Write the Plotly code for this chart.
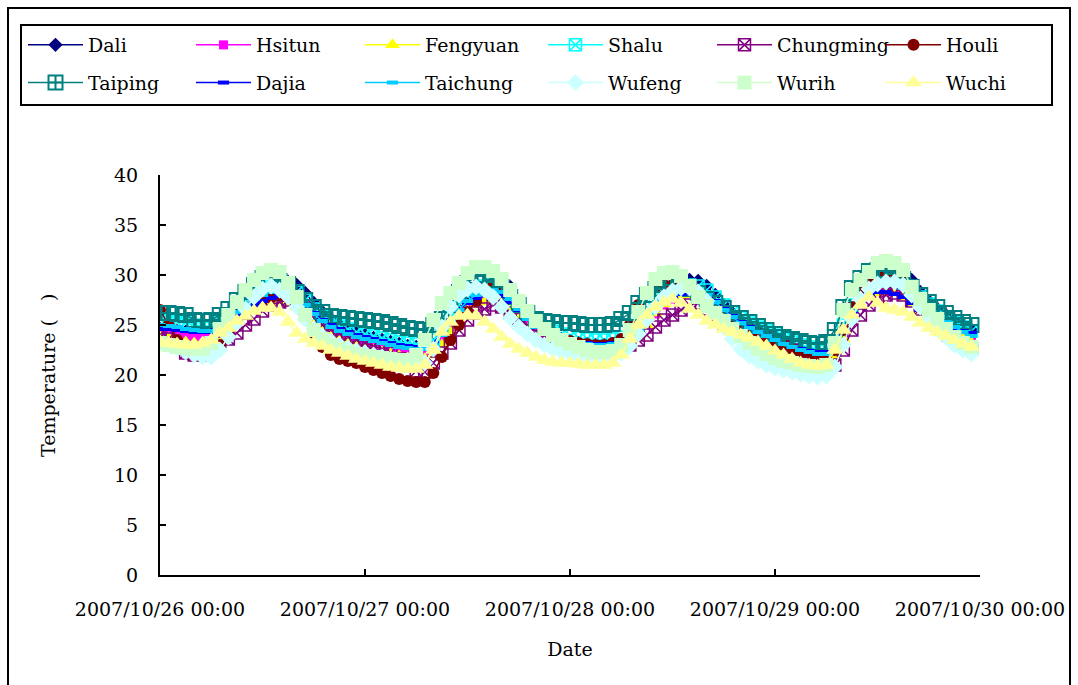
import pandas as pd
import plotly.graph_objects as go

times = pd.date_range("2007-10-26 00:00", periods=96, freq="h")

dali = [24.6, 24.5, 24.4, 24.3, 24.2, 24.1, 24.2, 24.6, 25.3, 26.1, 26.9, 27.6,
        28.2, 28.7, 29.1, 29.3, 29.0, 28.2, 27.2, 26.3, 25.6, 25.0, 24.6, 24.3,
        24.0, 23.7, 23.5, 23.3, 23.1, 22.9, 22.8, 22.7, 23.0, 24.0, 25.2, 26.5,
        27.5, 28.3, 28.9, 29.3, 29.4, 28.8, 27.2, 25.6, 24.8, 24.3, 23.9, 23.6,
        23.4, 23.2, 23.1, 23.0, 23.0, 23.1, 23.3, 23.6, 24.4, 25.5, 26.6, 27.6,
        28.4, 29.1, 29.5, 29.4, 28.9, 28.0, 27.0, 26.2, 25.5, 24.9, 24.4, 24.0,
        23.6, 23.2, 22.9, 22.6, 22.4, 22.2, 22.2, 22.8, 24.5, 26.5, 27.8, 28.8,
        29.6, 30.3, 30.6, 30.2, 29.5, 28.3, 27.4, 26.6, 26.0, 25.4, 24.9, 24.5]

hsitun = [24.2, 24.1, 24.0, 23.9, 23.8, 23.7, 23.7, 24.1, 24.8, 25.6, 26.4, 27.0,
          27.5, 27.9, 28.1, 28.1, 27.7, 27.0, 26.1, 25.3, 24.7, 24.2, 23.8, 23.5,
          23.2, 23.0, 22.8, 22.6, 22.4, 22.3, 22.2, 22.2, 22.6, 23.6, 24.8, 26.0,
          26.9, 27.6, 28.0, 28.2, 28.1, 27.5, 26.5, 25.4, 24.6, 24.0, 23.6, 23.3,
          23.1, 22.9, 22.8, 22.7, 22.7, 22.8, 23.0, 23.3, 24.1, 25.1, 26.1, 27.0,
          27.6, 28.0, 28.2, 28.1, 27.7, 27.0, 26.2, 25.5, 24.9, 24.4, 24.0, 23.6,
          23.2, 22.8, 22.5, 22.2, 22.0, 21.8, 21.8, 22.4, 24.0, 25.9, 27.2, 28.0,
          28.4, 28.6, 28.6, 28.3, 27.8, 27.0, 26.3, 25.6, 25.0, 24.5, 24.0, 23.6]

fengyuan = [23.8, 23.7, 23.5, 23.3, 23.2, 23.1, 23.1, 23.5, 24.2, 25.0, 25.8, 26.5,
            27.0, 27.3, 27.4, 27.3, 26.8, 26.0, 25.2, 24.5, 24.0, 23.6, 23.3, 23.0,
            22.7, 22.5, 22.3, 22.1, 21.9, 21.7, 21.6, 21.6, 22.0, 23.0, 24.3, 25.5,
            26.4, 27.0, 27.3, 27.4, 27.1, 26.4, 25.5, 24.6, 23.9, 23.3, 22.9, 22.6,
            22.4, 22.2, 22.1, 22.0, 22.0, 22.1, 22.3, 22.8, 23.8, 25.0, 26.2, 27.1,
            27.7, 28.0, 28.0, 27.7, 27.2, 26.5, 25.8, 25.1, 24.5, 24.0, 23.5, 23.0,
            22.6, 22.2, 21.9, 21.6, 21.4, 21.2, 21.2, 21.8, 23.6, 25.6, 27.0, 27.8,
            28.2, 28.3, 28.2, 27.8, 27.2, 26.5, 25.8, 25.2, 24.6, 24.1, 23.6, 23.2]

shalu = [25.6, 25.5, 25.3, 25.2, 25.0, 24.9, 24.9, 25.3, 26.0, 26.8, 27.5, 28.1,
         28.5, 28.8, 28.9, 28.8, 28.3, 27.5, 26.6, 25.9, 25.3, 24.9, 24.6, 24.3,
         24.1, 23.9, 23.7, 23.5, 23.3, 23.2, 23.1, 23.1, 23.5, 24.5, 25.8, 27.0,
         27.9, 28.5, 28.9, 29.0, 28.8, 28.1, 27.1, 26.1, 25.3, 24.8, 24.4, 24.1,
         23.9, 23.7, 23.6, 23.5, 23.5, 23.6, 23.8, 24.2, 25.1, 26.2, 27.2, 28.0,
         28.6, 28.9, 29.0, 28.9, 28.5, 27.8, 27.0, 26.3, 25.7, 25.2, 24.8, 24.4,
         24.0, 23.6, 23.3, 23.0, 22.8, 22.6, 22.6, 23.2, 25.0, 27.0, 28.2, 29.0,
         29.4, 29.6, 29.5, 29.2, 28.6, 27.8, 27.1, 26.4, 25.8, 25.3, 24.8, 24.4]

chungming = [24.0, 23.6, 22.8, 22.2, 22.0, 22.2, 22.6, 23.2, 23.6, 24.2, 25.0, 25.6,
             26.4, 27.0, 27.3, 27.5, 27.3, 26.6, 25.7, 25.0, 24.5, 24.1, 23.8, 23.5,
             23.2, 22.9, 22.6, 22.2, 21.6, 21.0, 20.4, 20.3, 21.2, 22.2, 23.2, 24.5,
             25.5, 26.2, 26.6, 27.0, 26.8, 26.2, 25.6, 25.0, 24.4, 23.9, 23.5, 23.2,
             23.0, 22.9, 22.8, 22.8, 22.8, 22.8, 22.8, 23.0, 23.5, 24.0, 24.8, 25.5,
             26.0, 26.5, 27.0, 27.2, 26.6, 25.8, 25.2, 24.9, 24.6, 24.3, 24.0, 23.7,
             23.3, 22.9, 22.5, 22.0, 21.6, 21.2, 21.0, 21.0, 22.5, 24.5, 26.0, 27.0,
             27.6, 28.0, 28.2, 28.0, 27.4, 26.6, 25.8, 25.0, 24.3, 23.6, 23.0, 22.6]

houli = [26.5, 25.0, 23.5, 22.5, 22.0, 21.8, 22.0, 23.0, 24.2, 25.4, 26.3, 27.0,
         27.5, 27.8, 28.0, 27.8, 27.0, 25.8, 24.2, 22.8, 22.0, 21.6, 21.4, 21.2,
         20.8, 20.5, 20.2, 19.9, 19.6, 19.4, 19.3, 19.3, 20.2, 21.8, 23.5, 25.0,
         26.3, 27.4, 28.3, 28.9, 29.0, 28.5, 27.5, 26.3, 25.2, 24.5, 24.0, 23.6,
         23.4, 23.2, 23.1, 23.0, 23.0, 23.2, 23.6, 25.0, 27.0, 28.3, 28.8, 29.0,
         29.0, 28.9, 28.6, 28.2, 27.6, 26.9, 26.2, 25.6, 25.0, 24.6, 24.2, 23.8,
         23.4, 23.0, 22.6, 22.3, 22.1, 21.9, 21.9, 22.5, 24.5, 26.8, 28.4, 29.4,
         30.0, 30.3, 30.3, 30.0, 29.0, 27.5, 25.8, 24.5, 23.8, 23.4, 23.1, 22.8]

taiping = [26.2, 26.2, 26.1, 26.0, 25.5, 25.4, 25.5, 26.0, 26.6, 27.5, 28.3, 29.0,
           29.7, 29.7, 29.4, 29.1, 28.3, 27.5, 26.8, 26.3, 25.9, 25.8, 25.7, 25.6,
           25.5, 25.4, 25.3, 25.1, 24.9, 24.7, 24.6, 24.5, 25.0, 25.6, 27.0, 28.3,
           29.2, 29.9, 30.0, 29.5, 28.8, 27.8, 27.0, 26.2, 25.6, 25.4, 25.3, 25.2,
           25.2, 25.1, 25.0, 25.0, 25.0, 25.1, 25.6, 26.2, 27.2, 28.0, 28.6, 29.0,
           29.0, 28.9, 28.6, 28.2, 27.6, 27.2, 26.7, 26.2, 25.7, 25.3, 24.9, 24.5,
           24.1, 23.8, 23.6, 23.4, 23.2, 23.1, 23.3, 24.5, 26.8, 28.7, 29.7, 30.4,
           30.5, 30.4, 30.1, 29.6, 28.8, 28.0, 27.3, 26.8, 26.2, 25.7, 25.3, 25.0]

dajia = [24.6, 24.6, 24.5, 24.4, 24.3, 24.3, 24.3, 24.6, 25.2, 25.9, 26.5, 27.0,
         27.4, 27.7, 27.9, 27.9, 27.6, 27.0, 26.2, 25.5, 25.0, 24.6, 24.3, 24.0,
         23.8, 23.6, 23.4, 23.2, 23.0, 22.9, 22.8, 22.8, 23.2, 24.2, 25.4, 26.5,
         27.2, 27.7, 28.0, 28.1, 27.9, 27.3, 26.5, 25.6, 24.9, 24.4, 24.0, 23.7,
         23.5, 23.3, 23.2, 23.1, 23.1, 23.2, 23.4, 23.8, 24.7, 25.7, 26.6, 27.3,
         27.8, 28.1, 28.2, 28.1, 27.9, 27.4, 26.6, 25.9, 25.3, 24.8, 24.3, 23.9,
         23.5, 23.1, 22.8, 22.6, 22.4, 22.3, 22.3, 22.8, 24.5, 26.3, 27.5, 28.1,
         28.3, 28.3, 28.1, 27.8, 27.2, 26.5, 25.9, 25.4, 25.0, 24.7, 24.4, 24.2]

taichung = [25.0, 24.9, 24.8, 24.6, 24.5, 24.4, 24.4, 24.8, 25.5, 26.3, 27.0, 27.6,
            28.0, 28.3, 28.4, 28.3, 27.8, 27.0, 26.1, 25.4, 24.8, 24.4, 24.1, 23.8,
            23.6, 23.4, 23.2, 23.0, 22.8, 22.7, 22.6, 22.6, 23.0, 24.0, 25.3, 26.5,
            27.4, 28.0, 28.4, 28.5, 28.3, 27.6, 26.6, 25.6, 24.8, 24.3, 23.9, 23.6,
            23.4, 23.2, 23.1, 23.0, 23.0, 23.1, 23.3, 23.7, 24.6, 25.7, 26.7, 27.5,
            28.1, 28.4, 28.5, 28.4, 28.0, 27.3, 26.5, 25.8, 25.2, 24.7, 24.3, 23.9,
            23.5, 23.1, 22.8, 22.5, 22.3, 22.1, 22.1, 22.7, 24.5, 26.5, 27.7, 28.5,
            28.9, 29.1, 29.0, 28.7, 28.1, 27.3, 26.6, 25.9, 25.3, 24.8, 24.3, 23.9]

wufeng = [23.2, 23.0, 22.7, 22.3, 22.0, 21.8, 21.8, 22.5, 23.8, 25.2, 26.6, 27.8,
          28.6, 28.9, 28.5, 27.8, 26.8, 25.6, 24.6, 23.9, 23.4, 23.0, 22.7, 22.4,
          22.2, 22.0, 21.8, 21.6, 21.4, 21.2, 21.0, 21.2, 22.6, 24.8, 26.8, 28.0,
          28.6, 28.8, 28.5, 27.8, 26.8, 25.7, 24.8, 24.1, 23.5, 23.0, 22.6, 22.3,
          22.1, 21.9, 21.8, 21.7, 21.7, 21.8, 22.2, 22.9, 24.1, 25.5, 26.8, 27.8,
          28.4, 28.7, 28.7, 28.3, 27.4, 26.1, 24.8, 23.6, 22.6, 21.9, 21.4, 21.0,
          20.7, 20.5, 20.3, 20.1, 19.9, 19.8, 19.9, 20.8, 23.0, 25.6, 27.6, 28.6,
          29.1, 29.3, 29.3, 29.0, 28.0, 26.8, 25.6, 24.6, 23.8, 23.0, 22.5, 22.1]

wurih = [23.2, 23.0, 22.8, 22.7, 22.6, 22.6, 23.2, 24.6, 26.0, 27.3, 28.5, 29.5,
         30.2, 30.5, 30.3, 29.2, 27.8, 26.0, 24.5, 23.6, 23.0, 22.6, 22.3, 22.1,
         21.9, 21.8, 21.7, 21.6, 21.5, 21.5, 22.0, 23.5, 25.5, 27.2, 28.2, 29.2,
         30.2, 30.8, 30.8, 30.4, 29.6, 28.5, 27.4, 26.4, 25.4, 24.6, 24.0, 23.5,
         23.1, 22.8, 22.5, 22.3, 22.3, 22.4, 23.0, 24.5, 26.3, 28.2, 29.6, 30.2,
         30.3, 29.9, 28.9, 27.8, 26.9, 26.2, 25.4, 24.6, 23.9, 23.2, 22.6, 22.1,
         21.7, 21.4, 21.2, 21.0, 20.9, 20.8, 21.0, 23.2, 26.5, 28.5, 29.5, 30.3,
         31.2, 31.4, 31.2, 30.5, 28.8, 27.6, 26.5, 25.6, 24.6, 23.8, 23.2, 22.8]

wuchi = [23.3, 23.2, 23.1, 23.0, 23.0, 23.2, 23.5, 24.2, 24.7, 25.4, 25.9, 26.4,
         26.7, 26.7, 26.3, 25.3, 24.2, 23.6, 23.2, 22.9, 22.5, 22.2, 21.9, 21.6,
         21.4, 21.2, 21.0, 20.8, 20.7, 20.6, 20.6, 21.0, 22.5, 24.3, 25.3, 25.9,
         26.0, 25.9, 25.3, 24.6, 23.8, 23.1, 22.6, 22.2, 21.8, 21.5, 21.3, 21.2,
         21.2, 21.1, 21.0, 21.0, 21.0, 21.2, 22.0, 23.6, 25.0, 26.0, 26.8, 27.3,
         27.6, 27.2, 26.6, 26.0, 25.4, 25.0, 24.6, 24.3, 24.0, 23.7, 23.3, 22.9,
         22.4, 22.0, 21.6, 21.2, 21.0, 20.9, 21.0, 22.5, 24.5, 26.0, 27.0, 27.8,
         27.2, 26.7, 26.5, 26.3, 25.8, 25.2, 24.7, 24.3, 23.9, 23.5, 23.1, 22.8]

series_names = ["Dali", "Hsitun", "Fengyuan", "Shalu", "Chungming", "Houli",
                "Taiping", "Dajia", "Taichung", "Wufeng", "Wurih", "Wuchi"]
series_values = [dali, hsitun, fengyuan, shalu, chungming, houli,
                 taiping, dajia, taichung, wufeng, wurih, wuchi]
colors = ["#000080", "#FF00FF", "#FFFF00", "#00FFFF", "#800080", "#800000",
          "#008080", "#0000FF", "#00CCFF", "#CCFFFF", "#CCFFCC", "#FFFF99"]
symbols = ["diamond", "square", "triangle-up", "square-x-open", "square-x-open", "circle",
           "square-cross-open", "line-ew", "line-ew", "diamond", "square", "triangle-up"]
sizes = [11, 9, 13, 12, 12, 12, 14, 8, 8, 13, 14, 15]
mline = [0, 0, 0, 1.5, 1.5, 0, 2, 4, 4, 0, 0, 0]

legend_ids = ["legend", "legend2", "legend3", "legend4", "legend5", "legend6"]
col_text_x = [88, 256, 425, 608, 777, 946]

fig = go.Figure()
for i, (name, vals, c, s, sz, lw) in enumerate(zip(series_names, series_values, colors, symbols, sizes, mline)):
    fig.add_trace(go.Scatter(
        x=times, y=vals, name=name, mode="lines+markers",
        line=dict(color=c, width=1.5),
        marker=dict(symbol=s, size=sz, color=c, line=dict(color=c, width=lw)),
        legend=legend_ids[i % 6], legendgroup=name,
    ))

font_family = "DejaVu Serif, serif"
W, H = 1078, 685

legends = {}
for k, lid in enumerate(legend_ids):
    legends[lid] = dict(
        orientation="v", xref="container", yref="container",
        x=(col_text_x[k] - 65) / W, y=1 - 26 / H, xanchor="left", yanchor="top",
        font=dict(family=font_family, size=19, color="black"),
        borderwidth=0, bgcolor="rgba(0,0,0,0)",
        itemwidth=55, tracegroupgap=10, traceorder="grouped",
    )

fig.update_layout(
    width=W, height=H,
    margin=dict(l=160, r=98, t=175, b=110, autoexpand=False),
    paper_bgcolor="white", plot_bgcolor="white",
    font=dict(family=font_family, size=19, color="black"),
    showlegend=True,
    xaxis=dict(
        type="date",
        range=["2007-10-26 00:00", "2007-10-30 00:00"],
        tickvals=["2007-10-26 00:00", "2007-10-27 00:00", "2007-10-28 00:00",
                  "2007-10-29 00:00", "2007-10-30 00:00"],
        ticktext=["2007/10/26 00:00", "2007/10/27 00:00", "2007/10/28 00:00",
                  "2007/10/29 00:00", "2007/10/30 00:00"],
        showgrid=False, zeroline=False,
        showline=True, linecolor="black", linewidth=2,
        ticks="inside", ticklen=6, tickwidth=1.5, tickcolor="black",
        ticklabelstandoff=16,
        tickfont=dict(family=font_family, size=19),
        title=dict(text="Date", font=dict(family=font_family, size=19), standoff=24),
    ),
    yaxis=dict(
        range=[0, 40], dtick=5, tick0=0,
        showgrid=False, zeroline=False,
        showline=True, linecolor="black", linewidth=2,
        ticks="inside", ticklen=6, tickwidth=1.5, tickcolor="black",
        ticklabelstandoff=16,
        tickfont=dict(family=font_family, size=19),
    ),
    annotations=[dict(
        text="Temperature (   )", textangle=-90, showarrow=False,
        xref="paper", yref="paper", x=(48 - 160) / 820, y=0.5,
        xanchor="center", yanchor="middle",
        font=dict(family=font_family, size=19, color="black"),
    )],
    shapes=[
        dict(type="rect", xref="paper", yref="paper",
             x0=(8 - 160) / 820, x1=(1070 - 160) / 820,
             y0=(575 - 700) / 400, y1=(575 - 8) / 400,
             line=dict(color="black", width=2), fillcolor="rgba(0,0,0,0)", layer="below"),
        dict(type="rect", xref="paper", yref="paper",
             x0=(21 - 160) / 820, x1=(1052 - 160) / 820,
             y0=(575 - 105) / 400, y1=(575 - 25) / 400,
             line=dict(color="black", width=2), fillcolor="white", layer="below"),
    ],
    **legends,
)

fig.write_html("out.html")
